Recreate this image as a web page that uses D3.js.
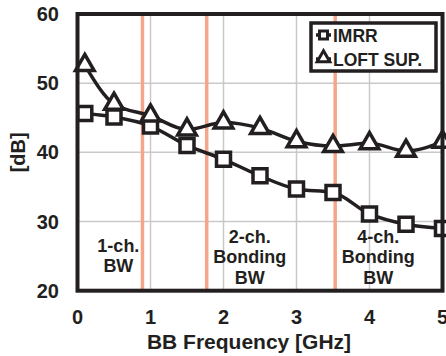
<!DOCTYPE html>
<html>
<head>
<meta charset="utf-8">
<script src="https://cdn.jsdelivr.net/npm/d3@7"></script>
<style>
  body { margin: 0; background: #fff; }
  text { font-family: "Liberation Sans", Arial, sans-serif; font-weight: bold; fill: #231f20; }
</style>
</head>
<body>
<div id="chart"></div>
<script>
const freq = [0.1, 0.5, 1, 1.5, 2, 2.5, 3, 3.5, 4, 4.5, 5];
const imrr = [45.6, 45.1, 43.8, 41.0, 39.0, 36.6, 34.7, 34.2, 31.1, 29.6, 29.0];
const loft = [52.6, 47.0, 45.3, 43.3, 44.3, 43.5, 41.6, 40.9, 41.3, 40.2, 41.5];
const bwEdges = [0.89, 1.77, 3.53];
const xTicks = [0, 1, 2, 3, 4, 5];
const yTicks = [20, 30, 40, 50, 60];
const bwLabels = [
  { x: 0.56, y: 25.6, lines: ["1-ch.", "BW"] },
  { x: 2.36, y: 26.9, lines: ["2-ch.", "Bonding", "BW"] },
  { x: 4.12, y: 26.9, lines: ["4-ch.", "Bonding", "BW"] }
];
const seriesNames = ["IMRR", "LOFT SUP."];

const W = 446, H = 356;
const ink = "#231f20";

const svg = d3.select("#chart").append("svg")
  .attr("width", W).attr("height", H);

const x = d3.scaleLinear().domain([0, 5]).range([77.5, 442.5]);
const y = d3.scaleLinear().domain([20, 60]).range([290.7, 14]);

// grid
svg.append("g").selectAll("line").data(xTicks.slice(1, -1)).join("line")
  .attr("x1", d => x(d)).attr("x2", d => x(d))
  .attr("y1", y(60)).attr("y2", y(20))
  .attr("stroke", "#c9c9c9").attr("stroke-width", 1.5);
svg.append("g").selectAll("line").data(yTicks.slice(1, -1)).join("line")
  .attr("x1", x(0)).attr("x2", x(5))
  .attr("y1", d => y(d)).attr("y2", d => y(d))
  .attr("stroke", "#c9c9c9").attr("stroke-width", 1.5);

// bandwidth markers
svg.append("g").selectAll("line").data(bwEdges).join("line")
  .attr("x1", d => x(d)).attr("x2", d => x(d))
  .attr("y1", y(60)).attr("y2", y(20))
  .attr("stroke", "#f5a58a").attr("stroke-width", 3.5);

// annotations
bwLabels.forEach(b => {
  const t = svg.append("text")
    .attr("x", x(b.x)).attr("y", y(b.y))
    .attr("text-anchor", "middle")
    .style("font-size", "18px");
  b.lines.forEach((l, i) => {
    t.append("tspan").attr("x", x(b.x)).attr("dy", i === 0 ? 0 : 20.5).text(l);
  });
});

// lines
const line = d3.line().x((d, i) => x(freq[i])).y(d => y(d)).curve(d3.curveMonotoneX);
[imrr, loft].forEach(s => {
  svg.append("path").datum(s)
    .attr("fill", "none").attr("stroke", ink)
    .attr("stroke-width", 3.5).attr("stroke-linejoin", "round")
    .attr("d", line);
});

const sq = d3.symbol().type(d3.symbolSquare).size(196);
const tri = d3.symbol().type(d3.symbolTriangle).size(150);

svg.append("g").selectAll("path").data(imrr).join("path")
  .attr("transform", (d, i) => `translate(${x(freq[i])},${y(d)})`)
  .attr("d", sq).attr("fill", "#fff").attr("stroke", ink).attr("stroke-width", 3.5);
svg.append("g").selectAll("path").data(loft).join("path")
  .attr("transform", (d, i) => `translate(${x(freq[i])},${y(d)})`)
  .attr("d", tri).attr("fill", "#fff").attr("stroke", ink).attr("stroke-width", 3.5);

// frame
svg.append("rect")
  .attr("x", x(0)).attr("y", y(60))
  .attr("width", x(5) - x(0)).attr("height", y(20) - y(60))
  .attr("fill", "none").attr("stroke", ink).attr("stroke-width", 4);

// ticks
svg.append("g").selectAll("text").data(yTicks).join("text")
  .attr("x", 59).attr("y", d => y(d) + 7)
  .attr("text-anchor", "end").style("font-size", "20px")
  .text(d => d);
svg.append("g").selectAll("text").data(xTicks).join("text")
  .attr("x", d => x(d)).attr("y", 324)
  .attr("text-anchor", "middle").style("font-size", "20px")
  .text(d => d);

// axis titles
svg.append("text")
  .attr("x", 249).attr("y", 349)
  .attr("text-anchor", "middle").style("font-size", "21px")
  .text("BB Frequency [GHz]");
svg.append("text")
  .attr("transform", `translate(25,${y(40)}) rotate(-90)`)
  .attr("text-anchor", "middle").style("font-size", "20px")
  .text("[dB]");

// legend
const lg = svg.append("g");
lg.append("rect")
  .attr("x", 311).attr("y", 23).attr("width", 125).attr("height", 48)
  .attr("fill", "#fff").attr("stroke", ink).attr("stroke-width", 3.5);
seriesNames.forEach((name, i) => {
  const cy = 35 + i * 24;
  lg.append("line").attr("x1", 316).attr("x2", 331).attr("y1", cy).attr("y2", cy)
    .attr("stroke", ink).attr("stroke-width", 3.5);
  lg.append("path")
    .attr("transform", `translate(323.5,${cy - (i === 1 ? 1 : 0)})`)
    .attr("d", d3.symbol().type(i === 0 ? d3.symbolSquare : d3.symbolTriangle).size(i === 0 ? 64 : 70))
    .attr("fill", "#fff").attr("stroke", ink).attr("stroke-width", 3);
  lg.append("text").attr("x", 333).attr("y", cy + 6.5)
    .style("font-size", "17.5px").text(name);
});
</script>
</body>
</html>
